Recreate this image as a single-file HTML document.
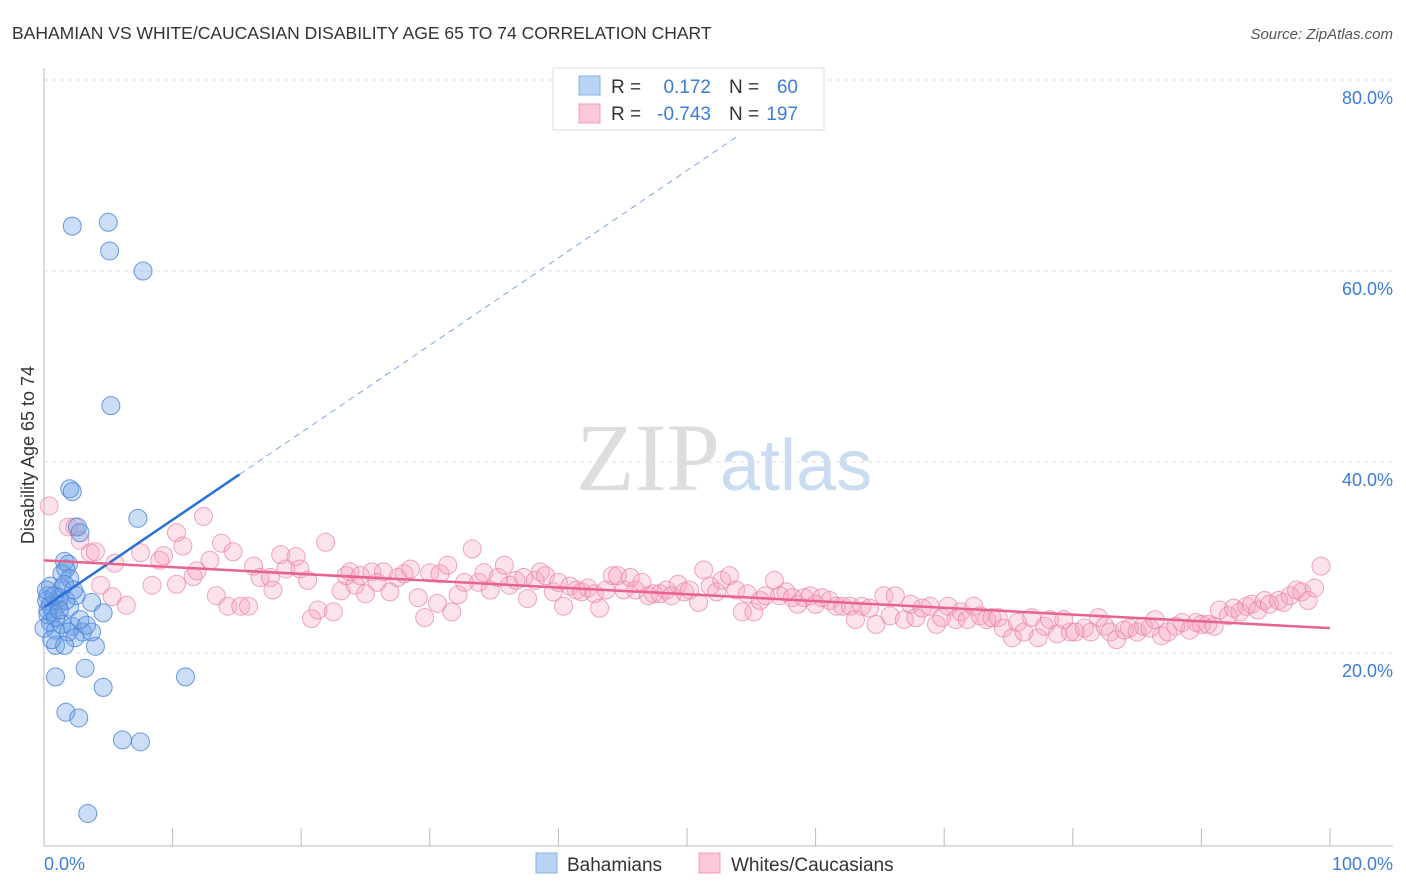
<!DOCTYPE html>
<html><head><meta charset="utf-8"><style>
body{margin:0;background:#fff;font-family:"Liberation Sans",sans-serif}
svg{display:block}
</style></head><body>
<svg id="c" width="1406" height="892" xmlns="http://www.w3.org/2000/svg">
<text x="12" y="39" font-size="17.5" fill="#333">BAHAMIAN VS WHITE/CAUCASIAN DISABILITY AGE 65 TO 74 CORRELATION CHART</text>
<text x="1393" y="39" font-size="15" fill="#555" font-style="italic" text-anchor="end">Source: ZipAtlas.com</text>
<text x="720" y="490" font-size="96" font-family="Liberation Serif" fill="#ddd" text-anchor="end">ZIP</text>
<text x="720" y="490" font-size="72" fill="#c9dcf2">atlas</text>
<text transform="translate(34,455) rotate(-90)" font-size="18" fill="#333" text-anchor="middle">Disability Age 65 to 74</text>
<g id="grid"></g><g id="pts"></g><g id="lines"></g>
<g>
<rect x="553" y="68" width="271" height="62" fill="#fff" stroke="#ddd"/>
<rect x="579" y="76" width="21" height="19" fill="#b9d3f5" stroke="#8ab0e6"/>
<rect x="579" y="104" width="21" height="19" fill="#fac8d7" stroke="#ec9cb6"/>
<text x="611" y="93" font-size="19" fill="#333">R = </text><text x="711" y="93" font-size="19" fill="#3b7dd8" text-anchor="end">0.172</text>
<text x="729" y="93" font-size="19" fill="#333">N = </text><text x="798" y="93" font-size="19" fill="#3b7dd8" text-anchor="end">60</text>
<text x="611" y="120" font-size="19" fill="#333">R = </text><text x="711" y="120" font-size="19" fill="#3b7dd8" text-anchor="end">-0.743</text>
<text x="729" y="120" font-size="19" fill="#333">N = </text><text x="798" y="120" font-size="19" fill="#3b7dd8" text-anchor="end">197</text>
</g>
<g>
<rect x="536" y="853" width="21" height="20" fill="#b9d3f5" stroke="#8ab0e6"/>
<text x="567" y="871" font-size="19" fill="#333">Bahamians</text>
<rect x="699" y="853" width="21" height="20" fill="#fac8d7" stroke="#ec9cb6"/>
<text x="731" y="871" font-size="19" fill="#333">Whites/Caucasians</text>
</g>
</svg>
<script>
const xTicks=[0,10,20,30,40,50,60,70,80,90,100];
const yTickVals=[20,40,60,80];
const yTickLabels=["20.0%","40.0%","60.0%","80.0%"];
const xEndLabels=["0.0%","100.0%"];
const blueX=[2.2,5.0,5.1,7.7,5.2,2.0,2.2,7.3,2.6,2.8,1.6,1.9,1.4,0.5,1.4,0.3,1.1,2.0,0.3,0.7,3.7,2.5,4.6,0.5,1.4,2.2,0.9,1.9,3.0,3.7,0.9,2.4,4.0,1.6,3.2,0.9,11.0,4.6,1.7,2.7,6.1,7.5,3.4,0.2,0.5,1.2,1.7,0.3,0.9,0,0.6,1.2,1.7,2.0,1.6,2.3,2.8,3.3,0.2,0.8];
const blueY=[64.7,65.1,62.1,60.0,45.9,37.2,36.9,34.1,33.2,32.6,29.6,29.3,28.3,27.0,26.8,26.0,25.1,24.8,24.5,24.3,25.3,26.0,24.2,23.2,23.0,22.8,22.4,22.2,22.2,22.2,20.8,21.6,20.7,20.8,18.4,17.5,17.5,16.4,13.8,13.2,10.9,10.7,3.2,25.5,25.0,25.8,25.5,24.0,23.7,22.6,21.4,24.5,28.8,27.8,27.2,26.6,23.5,22.9,26.6,26.0];
const pinkX=[0.4,1.9,2.4,2.8,3.6,4.0,4.4,5.5,6.4,5.3,7.5,8.4,9.0,9.3,10.3,10.3,10.8,11.6,11.9,12.4,12.9,13.4,13.8,14.3,14.7,15.3,15.9,16.3,16.8,17.6,17.8,18.4,18.8,19.6,19.9,20.5,20.8,21.3,21.9,22.5,23.1,23.5,23.8,24.2,24.6,25.0,25.5,25.9,26.4,26.9,27.5,28.0,28.5,29.1,29.6,30.0,30.6,30.8,31.4,31.7,32.2,32.7,33.3,33.8,34.2,34.7,35.3,35.8,36.2,36.7,37.3,37.6,38.2,38.6,39.0,39.6,40.0,40.4,40.9,41.4,41.8,42.3,42.8,43.2,43.7,44.2,44.6,45.1,45.6,46.0,46.5,47.0,47.4,47.9,48.4,48.8,49.3,49.8,50.2,50.9,51.3,51.8,52.3,52.7,53.3,53.8,54.3,54.7,55.2,55.7,56.1,56.8,57.2,57.7,58.2,58.6,59.1,59.6,60.0,60.5,61.1,61.6,62.1,62.7,63.1,63.6,64.2,64.7,65.3,65.8,66.2,66.9,67.4,67.8,68.3,68.9,69.4,69.8,70.3,70.9,71.3,71.8,72.3,72.8,73.3,73.7,74.2,74.6,75.3,75.7,76.2,76.8,77.3,77.8,78.2,78.8,79.3,79.8,80.2,80.9,81.4,82.0,82.5,82.9,83.4,84.0,84.4,85.0,85.5,86.0,86.4,86.9,87.4,88.0,88.5,89.1,89.6,90.0,90.5,91.0,91.4,92.1,92.5,93.0,93.5,93.9,94.4,94.9,95.3,96.0,96.4,96.9,97.4,97.8,98.3,98.8,99.3];
const pinkY=[35.4,33.2,33.2,31.8,30.5,30.6,27.1,29.4,25.0,25.9,30.5,27.1,29.7,30.2,32.6,27.2,31.2,28.0,28.6,34.3,29.7,26.0,31.5,24.9,30.6,24.9,24.9,29.1,27.9,27.9,26.6,30.3,28.8,30.1,28.8,27.6,23.6,24.5,31.6,24.3,26.5,28.1,28.5,27.1,28.1,26.2,28.5,27.4,28.5,26.4,27.9,28.3,28.8,25.8,23.7,28.4,25.2,28.3,29.2,24.3,26.1,27.4,30.9,27.4,28.4,26.6,27.9,29.2,27.1,27.6,27.9,25.7,27.6,28.5,28.1,26.4,27.4,24.9,27.0,26.6,26.4,26.8,26.2,24.7,26.6,28.1,28.1,26.6,27.9,26.6,27.4,26.0,26.2,26.2,26.6,26.0,27.2,26.4,26.6,25.3,28.7,27.0,26.4,27.6,28.1,26.6,24.3,26.2,24.3,25.5,26.0,27.6,26.0,26.4,25.8,25.1,25.8,26.0,25.1,25.8,25.5,24.9,24.9,24.9,23.5,24.9,24.7,23.0,26.0,23.9,26.0,23.5,25.1,23.7,24.7,24.9,23.0,23.7,24.9,23.5,24.3,23.5,24.9,23.9,23.5,23.7,23.7,22.6,21.6,23.2,22.2,23.7,21.6,22.8,23.5,22.0,23.5,22.2,22.2,22.6,22.2,23.7,22.8,22.2,21.4,22.4,22.6,22.2,22.8,22.6,23.5,21.8,22.2,22.8,23.2,22.4,23.2,23.0,23.0,22.8,24.5,23.9,24.7,24.3,24.9,25.1,24.5,25.5,25.1,25.5,25.3,26.0,26.6,26.4,25.5,26.8,29.1];
const blueTrend=[0,24.8,15.2,38.7,54,75];
const pinkTrend=[0,29.7,100,22.6];
const X=v=>44+v*12.86, Y=v=>844-v*9.55;
const NS="http://www.w3.org/2000/svg";
function mk(tag,attrs,parent){const e=document.createElementNS(NS,tag);for(const k in attrs)e.setAttribute(k,attrs[k]);parent.appendChild(e);return e;}
const grid=document.getElementById('grid'),pts=document.getElementById('pts'),lines=document.getElementById('lines');
yTickVals.forEach((v,i)=>{
 const l=mk('line',{x1:44,x2:1393,y1:Y(v),y2:Y(v),stroke:'#ddd','stroke-dasharray':'4,4'},grid);
 
 
 const t=mk('text',{x:1393,y:Y(v)+24,'font-size':18,fill:'#3b7dd8','text-anchor':'end'},grid);t.textContent=yTickLabels[i];
 
 
});
const ax=mk('line',{x1:44,x2:1393,y1:846,y2:846,stroke:'#bbb'},grid);


const ay=mk('line',{x1:44,x2:44,y1:68,y2:846,stroke:'#bbb'},grid);


xTicks.forEach(v=>{const t=mk('line',{x1:X(v),x2:X(v),y1:828,y2:846,stroke:'#bbb'},grid);
 
 });
[[0,'start',44],[100,'end',1393]].forEach((a,i)=>{const t=mk('text',{x:a[2],y:870,'font-size':18,fill:'#3b7dd8','text-anchor':a[1]},grid);t.textContent=xEndLabels[i];
 
 });
pinkX.forEach((x,i)=>{const c=mk('circle',{cx:X(x),cy:Y(pinkY[i]),r:9,fill:'rgba(244,160,188,0.3)',stroke:'rgba(232,130,165,0.7)','stroke-width':1},pts);
 
 });
blueX.forEach((x,i)=>{const c=mk('circle',{cx:X(x),cy:Y(blueY[i]),r:9,fill:'rgba(110,160,230,0.35)',stroke:'rgba(70,130,215,0.8)','stroke-width':1},pts);
 
 });
const bl=mk('line',{x1:X(blueTrend[0]),y1:Y(blueTrend[1]),x2:X(blueTrend[2]),y2:Y(blueTrend[3]),stroke:'#2a6fd6','stroke-width':2.5},lines);


const slope=(blueTrend[3]-blueTrend[1])/(blueTrend[2]-blueTrend[0]);
const bd=mk('line',{x1:X(blueTrend[2]),y1:Y(blueTrend[3]),x2:X(blueTrend[4]),y2:Y(blueTrend[1]+slope*blueTrend[4]),stroke:'#7aa5e3','stroke-width':1,'stroke-dasharray':'6,5'},lines);


const pl=mk('line',{x1:X(pinkTrend[0]),y1:Y(pinkTrend[1]),x2:X(pinkTrend[2]),y2:Y(pinkTrend[3]),stroke:'#e8628f','stroke-width':2.5},lines);


</script>
</body></html>
